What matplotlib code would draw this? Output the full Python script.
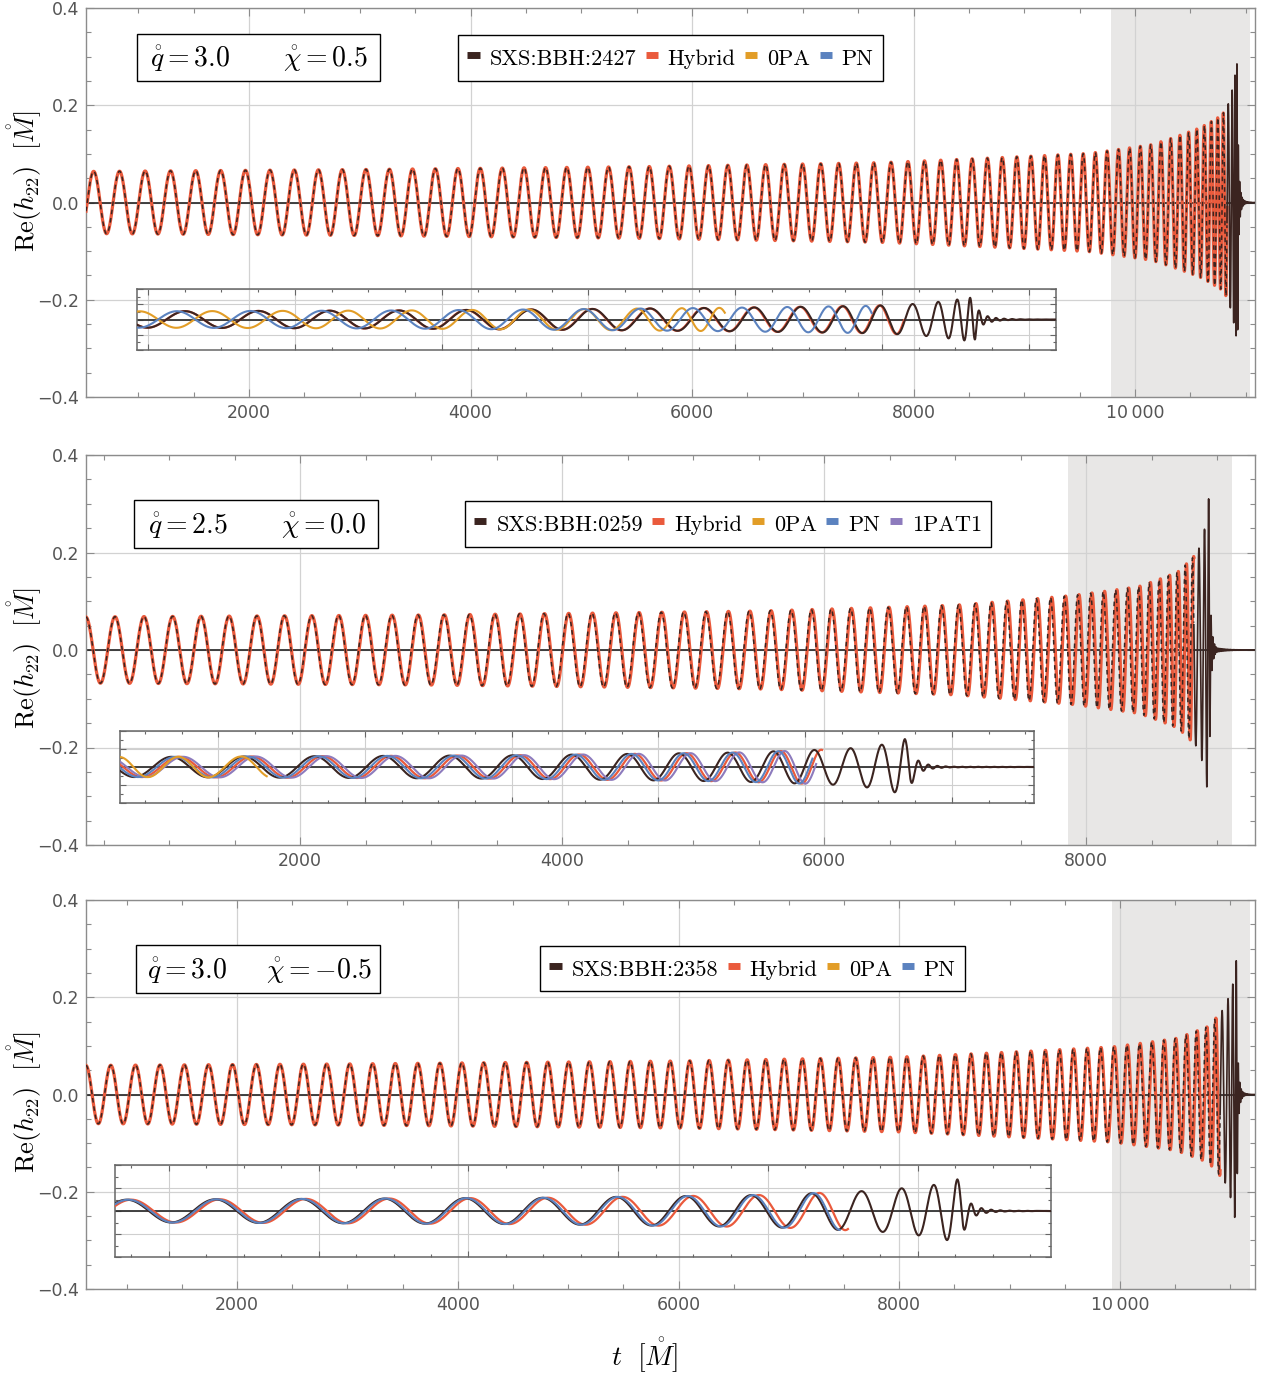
import numpy as np
import matplotlib
matplotlib.use("Agg")
import matplotlib.pyplot as plt
from matplotlib.lines import Line2D
from matplotlib.patches import Rectangle
from matplotlib.ticker import MultipleLocator, FuncFormatter

plt.rcParams['mathtext.fontset'] = 'cm'
plt.rcParams['font.family'] = ['DejaVu Sans']

W, H = 1270, 1374

# colours
C_SXS = '#3b2420'
C_HYB = '#ea5a3c'
C_0PA = '#e29d27'
C_PN = '#5b82bf'
C_1PA = '#8d7bbd'

# ---------------- panel 1 ----------------
p1_sim = 'SXS:BBH:2427'
p1_q, p1_chi = '3.0', '0.5'
p1_xlim = (528, 11083)
p1_shade = (9785, 11037)
p1_peak = 10920
p1_xticks = [2000, 4000, 6000, 8000, 10000]
p1_period_t = [528, 640, 2950, 5540, 7750, 8800, 9600, 9900, 10250, 10374, 10500, 10600, 10720, 10816, 10857, 10888, 10911, 10926, 10960, 11083]
p1_period = [234.1, 234.1, 213.9, 182.6, 155.4, 133.2, 109, 100, 90, 83, 75, 68, 58, 45, 36, 27, 18, 12, 11, 11]
p1_amp_t = [528, 3000, 5600, 7700, 9580, 10150, 10590, 10780, 10830, 10870, 10920, 10927, 10934, 10945, 10960, 10985, 11083]
p1_amp = [0.064, 0.068, 0.074, 0.082, 0.101, 0.119, 0.154, 0.179, 0.195, 0.224, 0.285, 0.26, 0.09, 0.04, 0.015, 0.004, 0.0001]
p1_hyb_t = [528, 9785, 10500, 10830]
p1_hyb_d = [0.0, 0.0, 0.01, 0.03]
p1_hyb_end = 10830
p1_0pa_t = [9785, 10000, 10163, 10240, 10321, 10464, 10525, 10586]
p1_0pa_d = [-0.40, -0.33, -0.18, -0.09, 0.05, 0.23, 0.41, 0.75]
p1_0pa_end = 10586
p1_pn_t = [9785, 10250, 10450, 10650, 10786]
p1_pn_d = [0.11, 0.12, 0.16, 0.28, 0.42]
p1_pn_end = 10786

# ---------------- panel 2 ----------------
p2_sim = 'SXS:BBH:0259'
p2_q, p2_chi = '2.5', '0.0'
p2_xlim = (366, 9290)
p2_shade = (7866, 9112)
p2_peak = 8936
p2_xticks = [2000, 4000, 6000, 8000]
p2_period_t = [366, 3000, 5500, 7000, 7916, 8266, 8390, 8516, 8616, 8736, 8832, 8880, 8919, 8940, 8955, 8990, 9290]
p2_period = [224, 198, 162, 129, 101, 91, 84, 76, 69, 62, 50, 44, 34, 22, 14, 11, 11]
p2_amp_t = [366, 3000, 5500, 7000, 7900, 8400, 8700, 8850, 8900, 8936, 8943, 8950, 8962, 8977, 9000, 9290]
p2_amp = [0.068, 0.072, 0.080, 0.092, 0.112, 0.13, 0.16, 0.20, 0.24, 0.31, 0.27, 0.10, 0.04, 0.015, 0.004, 0.0001]
p2_hyb_t = [366, 7000, 7866, 8500, 8823]
p2_hyb_d = [0.0, -0.05, -0.10, -0.13, -0.18]
p2_hyb_end = 8823
p2_0pa_t = [7866, 7896, 7990, 8040, 8066]
p2_0pa_d = [-0.30, -0.20, 0.0, 0.05, 0.10]
p2_0pa_end = 8066
p2_pn_t = [7866, 8500, 8810]
p2_pn_d = [-0.05, -0.07, -0.12]
p2_pn_end = 8810
p2_1pa_t = [7866, 8500, 8815]
p2_1pa_d = [-0.15, -0.20, -0.27]
p2_1pa_end = 8815

# ---------------- panel 3 ----------------
p3_sim = 'SXS:BBH:2358'
p3_q, p3_chi = '3.0', '-0.5'
p3_xlim = (632, 11223)
p3_shade = (9928, 11178)
p3_peak = 11053
p3_xticks = [2000, 4000, 6000, 8000, 10000]
p3_period_t = [632, 3000, 5500, 7700, 9000, 9941, 10175, 10399, 10650, 10836, 10905, 10960, 10997, 11036, 11057, 11072, 11110, 11223]
p3_period = [226.4, 208.5, 183.7, 156.9, 134.1, 120, 113, 106, 93, 80, 64, 52, 44, 34, 22, 14, 12, 12]
p3_amp_t = [632, 3000, 6000, 8000, 9930, 10500, 10800, 10950, 11020, 11053, 11060, 11067, 11078, 11093, 11118, 11223]
p3_amp = [0.060, 0.063, 0.069, 0.077, 0.098, 0.115, 0.14, 0.18, 0.225, 0.275, 0.25, 0.09, 0.04, 0.015, 0.004, 0.0001]
p3_hyb_t = [632, 9000, 9928, 10500, 10907]
p3_hyb_d = [0.0, -0.02, -0.05, -0.07, -0.15]
p3_hyb_end = 10907
p3_pn_t = [9928, 10500, 10896]
p3_pn_d = [-0.02, -0.02, -0.04]
p3_pn_end = 10896

# ---------------- layout (pixel boxes) ----------------
main_boxes = [(86, 8, 1255, 397), (86, 455, 1255, 845), (86, 900, 1255, 1289)]
inset_boxes = [(137, 289, 1056, 350), (120, 731, 1034, 803), (115, 1165, 1051, 1257)]
param_boxes = [(137, 34, 380, 81), (134, 500, 378, 548), (136, 945, 380, 993)]
param_text_x = [(150, 283), (148, 281), (147, 266)]
legend_centers = [(670.5, 58), (728, 524), (752.5, 968.5)]
ylabel_centers = [181, 658, 1102]

panels = [
    dict(sim=p1_sim, q=p1_q, chi=p1_chi, xlim=p1_xlim, shade=p1_shade, peak=p1_peak,
         xticks=p1_xticks, pt=p1_period_t, pv=p1_period, at=p1_amp_t, av=p1_amp,
         hyb=(p1_hyb_t, p1_hyb_d, p1_hyb_end),
         others=[(C_0PA, p1_0pa_t, p1_0pa_d, p1_shade[0], p1_0pa_end),
                 (C_PN, p1_pn_t, p1_pn_d, p1_shade[0], p1_pn_end)],
         legend=[(C_HYB, 'Hybrid'), (C_0PA, '0PA'), (C_PN, 'PN')]),
    dict(sim=p2_sim, q=p2_q, chi=p2_chi, xlim=p2_xlim, shade=p2_shade, peak=p2_peak,
         xticks=p2_xticks, pt=p2_period_t, pv=p2_period, at=p2_amp_t, av=p2_amp,
         hyb=(p2_hyb_t, p2_hyb_d, p2_hyb_end),
         others=[(C_1PA, p2_1pa_t, p2_1pa_d, p2_shade[0], p2_1pa_end),
                 (C_PN, p2_pn_t, p2_pn_d, p2_shade[0], p2_pn_end),
                 (C_0PA, p2_0pa_t, p2_0pa_d, p2_shade[0], p2_0pa_end)],
         legend=[(C_HYB, 'Hybrid'), (C_0PA, '0PA'), (C_PN, 'PN'), (C_1PA, '1PAT1')]),
    dict(sim=p3_sim, q=p3_q, chi=p3_chi, xlim=p3_xlim, shade=p3_shade, peak=p3_peak,
         xticks=p3_xticks, pt=p3_period_t, pv=p3_period, at=p3_amp_t, av=p3_amp,
         hyb=(p3_hyb_t, p3_hyb_d, p3_hyb_end),
         others=[(C_PN, p3_pn_t, p3_pn_d, p3_shade[0], p3_pn_end)],
         legend=[(C_HYB, 'Hybrid'), (C_0PA, '0PA'), (C_PN, 'PN')]),
]


def fig_rect(box):
    x0, y0, x1, y1 = box
    return [x0 / W, 1 - y1 / H, (x1 - x0) / W, (y1 - y0) / H]


def xfmt(v, pos):
    v = int(round(v))
    s = str(abs(v))
    if abs(v) >= 10000:
        s = s[:-3] + '\u2009' + s[-3:]
    return s


def yfmt(v, pos):
    s = f"{abs(v):.1f}"
    return ('\u2212' + s) if v < -1e-9 else s


fig = plt.figure(figsize=(W / 100, H / 100), dpi=100)

for i, p in enumerate(panels):
    t = np.arange(p['xlim'][0], p['xlim'][1], 0.2)
    dt = t[1] - t[0]
    P = np.interp(t, p['pt'], p['pv'])
    N = np.cumsum(dt / P)
    N = N - np.interp(p['peak'], t, N)
    A = np.exp(np.interp(t, p['at'], np.log(p['av'])))

    def wave(dt_, dd_):
        d = np.interp(t, dt_, dd_)
        return A * np.cos(2 * np.pi * (N + d))

    h_sxs = A * np.cos(2 * np.pi * N)
    ht, hd, he = p['hyb']
    h_hyb = wave(ht, hd)

    ax = fig.add_axes(fig_rect(main_boxes[i]))
    ax.set_xlim(*p['xlim'])
    ax.set_ylim(-0.4, 0.4)
    ax.axvspan(*p['shade'], color='#e8e7e6', lw=0, zorder=0)
    ax.set_xticks(p['xticks'])
    ax.xaxis.set_minor_locator(MultipleLocator(500))
    ax.yaxis.set_major_locator(MultipleLocator(0.2))
    ax.yaxis.set_minor_locator(MultipleLocator(0.05))
    ax.xaxis.set_major_formatter(FuncFormatter(xfmt))
    ax.yaxis.set_major_formatter(FuncFormatter(yfmt))
    ax.tick_params(which='both', direction='in', top=True, right=True,
                   color='#8c8c8c', labelcolor='#555555', labelsize=12.5, width=0.8)
    ax.tick_params(which='major', length=6, pad=5)
    ax.tick_params(which='minor', length=3.5)
    for s in ax.spines.values():
        s.set_color('#8c8c8c')
        s.set_linewidth(1.0)
    ax.grid(True, which='major', color='#d2d2d2', lw=0.9)
    ax.set_axisbelow(True)
    ax.axhline(0, color='#222222', lw=1.2, zorder=2)

    m = t <= he
    ax.plot(t[m], h_hyb[m], color=C_HYB, lw=2.3, zorder=3)
    ax.plot(t[m], h_sxs[m], color=C_SXS, lw=1.1, ls=(0, (3, 2.5)), zorder=4)
    ax.plot(t[t >= he], h_sxs[t >= he], color=C_SXS, lw=1.2, zorder=4)

    # inset
    ins = fig.add_axes(fig_rect(inset_boxes[i]))
    ins.set_facecolor('none')
    ins.set_xlim(*p['shade'])
    ins.set_ylim(-0.4, 0.4)
    ins.xaxis.set_major_locator(MultipleLocator(200))
    ins.xaxis.set_minor_locator(MultipleLocator(50))
    ins.yaxis.set_major_locator(MultipleLocator(0.2))
    ins.yaxis.set_minor_locator(MultipleLocator(0.1))
    ins.tick_params(which='both', direction='in', top=True, right=True,
                    labelbottom=False, labelleft=False, color='#666666', width=0.8)
    ins.tick_params(which='major', length=4)
    ins.tick_params(which='minor', length=2.5)
    for s in ins.spines.values():
        s.set_color('#666666')
        s.set_linewidth(1.1)
    ins.grid(True, which='major', color='#cfcfcf', lw=0.8)
    ins.set_axisbelow(True)
    ins.axhline(0, color='#333333', lw=1.3, zorder=2)
    wm = (t >= p['shade'][0]) & (t <= p['shade'][1])
    mh = wm & (t <= he)
    ins.plot(t[mh], h_hyb[mh], color=C_HYB, lw=1.6, zorder=3)
    ins.plot(t[wm], h_sxs[wm], color=C_SXS, lw=1.5, zorder=4)
    for (c, dt_, dd_, s0, s1) in p['others']:
        hm = wave(dt_, dd_)
        mm = (t >= s0) & (t <= s1)
        ins.plot(t[mm], hm[mm], color=c, lw=1.5, zorder=5)

    # parameter box
    bx0, by0, bx1, by1 = param_boxes[i]
    fig.add_artist(Rectangle((bx0 / W, 1 - by1 / H), (bx1 - bx0) / W, (by1 - by0) / H,
                             transform=fig.transFigure, fc='white', ec='black', lw=1.0, zorder=10))
    base = by1 - 14
    qx, cx = param_text_x[i]
    fig.text(qx / W, 1 - base / H, r'$\mathring{q} = ' + p['q'] + '$',
             fontsize=20, ha='left', va='baseline', zorder=11)
    fig.text(cx / W, 1 - base / H, r'$\mathring{\chi} = ' + p['chi'] + '$',
             fontsize=20, ha='left', va='baseline', zorder=11)

    # legend
    handles = [Line2D([], [], color=C_SXS, lw=5, solid_capstyle='butt')]
    labels = [p['sim']]
    for c, name in p['legend']:
        handles.append(Line2D([], [], color=c, lw=5, solid_capstyle='butt'))
        labels.append(name)
    lx, ly = legend_centers[i]
    leg = ax.legend(handles, labels, loc='center', bbox_to_anchor=(lx / W, 1 - ly / H),
                    bbox_transform=fig.transFigure, ncol=len(labels), frameon=True,
                    fancybox=False, edgecolor='black', framealpha=1,
                    prop={'family': 'cmr10', 'size': 16}, handlelength=0.55,
                    handletextpad=0.45, columnspacing=0.42, borderpad=0.42,
                    handleheight=1.45)
    leg.get_frame().set_linewidth(1.0)
    leg.set_zorder(10)

    # y label
    fig.text(25 / W, 1 - ylabel_centers[i] / H, r'$\mathrm{Re}(h_{22})\ \ [\mathring{M}]$',
             rotation=90, fontsize=19, ha='center', va='center')

fig.text(645 / W, 1 - 1355 / H, r'$t\ \ [\mathring{M}]$', fontsize=20, ha='center', va='center')

fig.savefig('out.png', dpi=100)
